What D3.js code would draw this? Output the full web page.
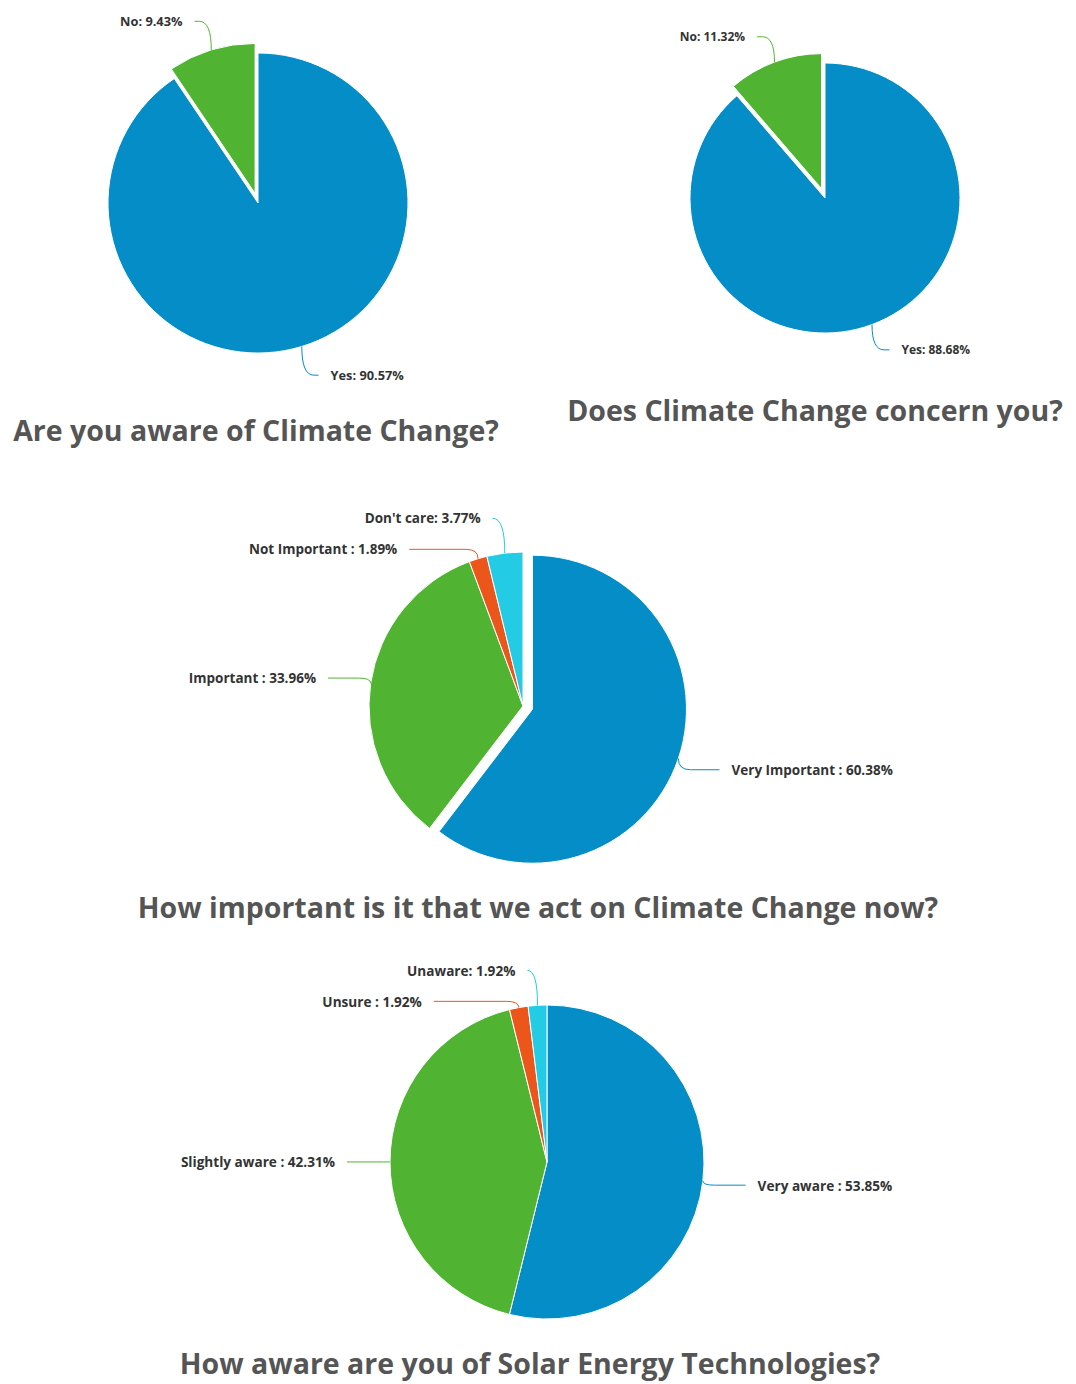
<!DOCTYPE html>
<html>
<head>
<meta charset="utf-8">
<script src="https://cdn.jsdelivr.net/npm/d3@7"></script>
<style>
  html, body { margin: 0; padding: 0; background: #fff; }
  svg { display: block; }
</style>
</head>
<body>
<svg id="chart" width="1076" height="1384"></svg>
<script>
// ---------------- DATA ----------------
const q1Title = "Are you aware of Climate Change?";
const q1Cats = ["Yes", "No"];
const q1Vals = [90.57, 9.43];
const q1Seps = [": ", ": "];

const q2Title = "Does Climate Change concern you?";
const q2Cats = ["Yes", "No"];
const q2Vals = [88.68, 11.32];
const q2Seps = [": ", ": "];

const q3Title = "How important is it that we act on Climate Change now?";
const q3Cats = ["Very Important", "Important", "Not Important", "Don't care"];
const q3Vals = [60.38, 33.96, 1.89, 3.77];
const q3Seps = [" : ", " : ", " : ", ": "];

const q4Title = "How aware are you of Solar Energy Technologies?";
const q4Cats = ["Very aware", "Slightly aware", "Unsure", "Unaware"];
const q4Vals = [53.85, 42.31, 1.92, 1.92];
const q4Seps = [" : ", " : ", " : ", ": "];

const palette = ["#058DC7", "#50B432", "#ED561B", "#24CBE5"];

// ---------------- LAYOUT ----------------
const charts = [
  { title: q1Title, cats: q1Cats, vals: q1Vals, seps: q1Seps, cx: 258, cy: 203, r: 150, sliced: 1, dist: 30, tx: 256, ty: 430, lfs: 12.8 },
  { title: q2Title, cats: q2Cats, vals: q2Vals, seps: q2Seps, cx: 825, cy: 198, r: 135, sliced: 1, dist: 27, tx: 815, ty: 410, lfs: 12 },
  { title: q3Title, cats: q3Cats, vals: q3Vals, seps: q3Seps, cx: 523, cy: 706, r: 154, sliced: 0, dist: 35, tx: 538, ty: 907, lfs: 13.5 },
  { title: q4Title, cats: q4Cats, vals: q4Vals, seps: q4Seps, cx: 547, cy: 1162, r: 157, sliced: -1, dist: 35, tx: 530, ty: 1363, lfs: 13.6 }
];

const svg = d3.select("#chart");
const FONT = "'Open Sans', 'Noto Sans', sans-serif";
const slicedOffset = 10;
const labelGap = 31;

charts.forEach(ch => {
  const g = svg.append("g");
  const pie = d3.pie().sort(null).value(d => d.v);
  const data = ch.vals.map((v, i) => ({ v, name: ch.cats[i], sep: ch.seps[i], color: palette[i], idx: i }));
  const arcs = pie(data);
  const arc = d3.arc().innerRadius(0).outerRadius(ch.r);

  arcs.forEach(a => {
    const mid = (a.startAngle + a.endAngle) / 2;
    const dx = Math.sin(mid), dy = -Math.cos(mid);
    const off = (a.index === ch.sliced) ? slicedOffset : 0;
    a.ox = ch.cx + dx * off;
    a.oy = ch.cy + dy * off;
    a.p0 = [a.ox + dx * ch.r, a.oy + dy * ch.r];
    a.idealY = a.oy + dy * (ch.r + ch.dist);
    a.side = dx >= 0 ? 1 : -1;
  });

  g.selectAll("path.slice").data(arcs).enter().append("path")
    .attr("class", "slice")
    .attr("transform", d => `translate(${d.ox},${d.oy})`)
    .attr("d", arc)
    .attr("fill", d => d.data.color)
    .attr("stroke", "#fff")
    .attr("stroke-width", 1)
    .attr("stroke-linejoin", "round");

  [-1, 1].forEach(side => {
    const items = arcs.filter(a => a.side === side).sort((a, b) => a.idealY - b.idealY);
    let prev = -Infinity;
    items.forEach(a => {
      a.ly = Math.max(a.idealY, prev + labelGap);
      prev = a.ly;
    });
  });

  arcs.forEach(a => {
    const R = ch.r + ch.dist;
    const dyc = a.ly - a.oy;
    const dxc = Math.sqrt(Math.max(0, R * R - dyc * dyc));
    const lx = a.ox + a.side * dxc;
    const lineStart = lx + a.side * 8;
    const textX = lineStart + a.side * 12;
    const p0 = a.p0;
    const span = Math.abs(p0[0] - lineStart);
    const k = Math.min(12, span);
    const midX = p0[0] + a.side * k;
    const path = `M${lineStart},${a.ly} L${midX},${a.ly} Q${p0[0]},${a.ly} ${p0[0]},${p0[1]}`;
    g.append("path")
      .attr("d", path)
      .attr("fill", "none")
      .attr("stroke", a.data.color)
      .attr("stroke-width", 1);
    g.append("text")
      .attr("x", textX)
      .attr("y", a.ly)
      .attr("text-anchor", a.side < 0 ? "end" : "start")
      .attr("dominant-baseline", "central")
      .attr("font-family", FONT)
      .attr("font-weight", "bold")
      .attr("font-size", ch.lfs + "px")
      .attr("fill", "#333")
      .text(a.data.name + a.data.sep + a.data.v.toFixed(2) + "%");
  });

  svg.append("text")
    .attr("x", ch.tx)
    .attr("y", ch.ty)
    .attr("text-anchor", "middle")
    .attr("dominant-baseline", "central")
    .attr("font-family", FONT)
    .attr("font-weight", "bold")
    .attr("font-size", "28.5px")
    .attr("fill", "#555")
    .text(ch.title);
});
</script>
</body>
</html>
